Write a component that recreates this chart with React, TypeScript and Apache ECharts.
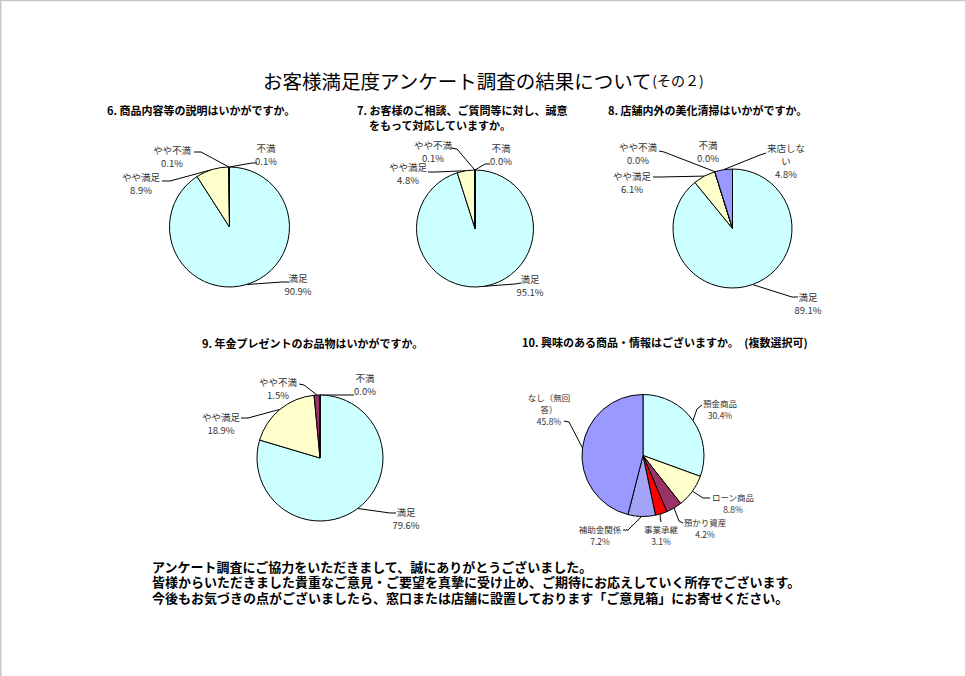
import React, { useEffect, useRef } from 'react';
import * as echarts from 'echarts';

// ---------------- DATA ----------------
const pageTitle = 'お客様満足度アンケート調査の結果について';
const pageTitleSuffix = '(その２)';

const q6Title = ['6. 商品内容等の説明はいかがですか。'];
const q7Title = ['7. お客様のご相談、ご質問等に対し、誠意', 'をもって対応していますか。'];
const q8Title = ['8. 店舗内外の美化清掃はいかがですか。'];
const q9Title = ['9. 年金プレゼントのお品物はいかがですか。'];
const q10Title = ['10. 興味のある商品・情報はございますか。　(複数選択可)'];

const satisfactionNames = ['満足', 'やや満足', 'やや不満', '不満'];
const q6Values = [90.9, 8.9, 0.1, 0.1];
const q7Values = [95.1, 4.8, 0.1, 0.0];
const q8Names = ['満足', 'やや満足', 'やや不満', '不満', '来店しない'];
const q8Values = [89.1, 6.1, 0.0, 0.0, 4.8];
const q9Values = [79.6, 18.9, 1.5, 0.0];
const q10Names = ['預金商品', 'ローン商品', '預かり資産', '事業承継', '補助金関係', 'なし（無回答）'];
const q10Values = [30.4, 8.8, 4.2, 3.1, 7.2, 45.8];

const footerLines = [
  'アンケート調査にご協力をいただきまして、誠にありがとうございました。',
  '皆様からいただきました貴重なご意見・ご要望を真摯に受け止め、ご期待にお応えしていく所存でございます。',
  '今後もお気づきの点がございましたら、窓口または店舗に設置しております「ご意見箱」にお寄せください。',
];

// ---------------- STYLES / LAYOUT ----------------
const satisfactionColors = ['#CCFFFF', '#FFFFCC', '#993366', '#800000'];
const q8Colors = ['#CCFFFF', '#FFFFCC', '#993366', '#800000', '#9999FF'];
const q10Colors = ['#CCFFFF', '#FFFFCC', '#993366', '#FF0000', '#A3A3F7', '#9999FF'];

const FONT = '"Noto Sans CJK JP", "Noto Sans", sans-serif';

type LabelCfg = { c: number[]; a?: number[]; e?: number[]; wrap?: number };

const pies = [
  {
    names: satisfactionNames, values: q6Values, colors: satisfactionColors, center: [229.5, 227], r: 60,
    fontSize: 9.5, lh: 13,
    labels: [
      { c: [298, 278], a: [289, 282], e: [282, 282] },
      { c: [141, 177], a: [162, 181], e: [170, 181] },
      { c: [172, 150], a: [194, 152], e: [201, 152] },
      { c: [266, 148], a: [257, 163], e: [252, 163] },
    ] as LabelCfg[],
  },
  {
    names: satisfactionNames, values: q7Values, colors: satisfactionColors, center: [475, 228.5], r: 58.5,
    fontSize: 9.5, lh: 13,
    labels: [
      { c: [530, 279], a: [521, 283], e: [515, 284] },
      { c: [408, 167], a: [428, 172], e: [436, 172] },
      { c: [433, 145], a: [451, 148], e: [457, 149] },
      { c: [501, 148], a: [490, 164], e: [485, 164] },
    ] as LabelCfg[],
  },
  {
    names: q8Names, values: q8Values, colors: q8Colors, center: [732.5, 228.5], r: 59.5,
    fontSize: 9.5, lh: 13,
    labels: [
      { c: [808, 297], a: [798, 297], e: [792, 297] },
      { c: [632, 176], a: [653, 177], e: [660, 177] },
      { c: [638, 147], a: [659, 151], e: [664, 152] },
      { c: [708, 145] },
      { c: [786, 148], a: [766, 153], e: [760, 155], wrap: 4 },
    ] as LabelCfg[],
  },
  {
    names: satisfactionNames, values: q9Values, colors: satisfactionColors, center: [320, 458], r: 63,
    fontSize: 9.5, lh: 13,
    labels: [
      { c: [406, 512], a: [396, 513], e: [390, 513] },
      { c: [221, 417], a: [241, 418], e: [248, 418] },
      { c: [278, 382], a: [299, 384], e: [304, 385] },
      { c: [365, 378], a: [354, 395], e: [340, 395] },
    ] as LabelCfg[],
  },
  {
    names: q10Names, values: q10Values, colors: q10Colors, center: [643, 455.5], r: 61,
    fontSize: 8.5, lh: 12,
    labels: [
      { c: [720, 403], a: [702, 405], e: [697, 409] },
      { c: [733, 497], a: [710, 498], e: [703, 498] },
      { c: [705, 522], a: [683, 523], e: [679, 521] },
      { c: [661, 529], a: [661, 522], e: [660, 516] },
      { c: [600, 529], a: [623, 530], e: [628, 530] },
      { c: [549, 397], a: [564, 421], e: [569, 422], wrap: 5 },
    ] as LabelCfg[],
  },
];

const questionTitles = [
  { lines: q6Title, x: 107, y: 110 },
  { lines: q7Title, x: 357, y: 110, indent: 12 },
  { lines: q8Title, x: 608, y: 110 },
  { lines: q9Title, x: 202, y: 343 },
  { lines: q10Title, x: 522, y: 342 },
];

function midEdgePoint(values: number[], idx: number, center: number[], r: number) {
  const total = values.reduce((s, v) => s + v, 0);
  let before = 0;
  for (let i = 0; i < idx; i++) before += values[i];
  const frac = (before + values[idx] / 2) / total;
  const ang = frac * Math.PI * 2;
  return [center[0] + r * Math.sin(ang), center[1] - r * Math.cos(ang)];
}

export default function App() {
  const ref = useRef<HTMLDivElement>(null);

  useEffect(() => {
    if (!ref.current) return;
    const chart = echarts.init(ref.current, undefined, { renderer: 'svg' });

    const series = pies.map((pie) => ({
      type: 'pie',
      center: pie.center,
      radius: pie.r,
      startAngle: 90,
      clockwise: true,
      avoidLabelOverlap: false,
      silent: true,
      emphasis: { disabled: true },
      itemStyle: { borderColor: '#000', borderWidth: 1 },
      label: {
        show: true,
        position: 'outside',
        color: '#333',
        fontSize: pie.fontSize,
        lineHeight: pie.lh,
        fontFamily: FONT,
        align: 'center',
        formatter: (p: any) => {
          const cfg = pie.labels[p.dataIndex];
          let name: string = p.name;
          if (cfg && cfg.wrap && name.length > cfg.wrap) name = name.slice(0, cfg.wrap) + '\n' + name.slice(cfg.wrap);
          return name + '\n' + Number(p.value).toFixed(1) + '%';
        },
      },
      labelLine: { show: true, length: 8, length2: 8, lineStyle: { color: '#000', width: 1 } },
      labelLayout: (p: any) => {
        const cfg = pie.labels[p.dataIndex];
        const res: any = { x: cfg.c[0], y: cfg.c[1] - pie.lh / 2, align: 'center', verticalAlign: 'top' };
        if (cfg.a && cfg.e) {
          const start = p.labelLinePoints && p.labelLinePoints[0]
            ? p.labelLinePoints[0]
            : midEdgePoint(pie.values, p.dataIndex, pie.center, pie.r);
          res.labelLinePoints = [start, cfg.e, cfg.a];
        }
        return res;
      },
      data: pie.names.map((n, i) => ({
        name: n,
        value: pie.values[i],
        itemStyle: { color: pie.colors[i] },
        labelLine: { show: !!pie.labels[i].a },
      })),
    }));

    const graphics: any[] = [
      { type: 'line', shape: { x1: 0, y1: 0.5, x2: 965, y2: 0.5 }, style: { stroke: '#c8c8c8', lineWidth: 1.5 } },
      { type: 'line', shape: { x1: 0.75, y1: 0, x2: 0.75, y2: 676 }, style: { stroke: '#c8c8c8', lineWidth: 1.5 } },
      {
        type: 'text',
        x: 483,
        y: 80,
        style: {
          text: '{a|' + pageTitle + '}{b|' + pageTitleSuffix + '}',
          align: 'center',
          verticalAlign: 'middle',
          fill: '#000',
          rich: {
            a: { fontSize: 19.5, fontFamily: FONT, fill: '#000' },
            b: { fontSize: 14, fontFamily: FONT, fill: '#000' },
          },
        },
      },
    ];

    questionTitles.forEach((q) => {
      q.lines.forEach((line, li) => {
        graphics.push({
          type: 'text',
          x: q.x + (li > 0 ? (q as any).indent || 0 : 0),
          y: q.y + li * 15,
          style: {
            text: line,
            fontSize: 11,
            lineHeight: 14,
            fontWeight: 'bold',
            fontFamily: FONT,
            fill: '#000',
            verticalAlign: 'middle',
          },
        });
      });
    });

    footerLines.forEach((line, i) => {
      graphics.push({
        type: 'text',
        x: 152,
        y: 566 + i * 15.7,
        style: {
          text: line,
          fontSize: 13,
          lineHeight: 15,
          fontWeight: 'bold',
          fontFamily: FONT,
          fill: '#000',
          verticalAlign: 'middle',
        },
      });
    });

    chart.setOption({
      animation: false,
      backgroundColor: '#fff',
      series,
      graphic: graphics,
    });

    return () => chart.dispose();
  }, []);

  return (
    <div
      ref={ref}
      style={{ position: 'absolute', left: 0, top: 0, width: 965, height: 676 }}
    />
  );
}
